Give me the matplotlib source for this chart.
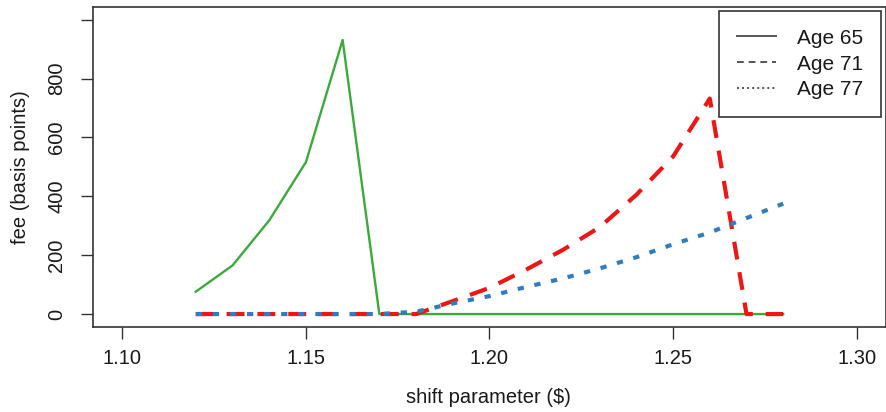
import matplotlib.pyplot as plt
from matplotlib.lines import Line2D

# shift parameter grid and fees (basis points)
shift = [1.12, 1.13, 1.14, 1.15, 1.16, 1.17, 1.18, 1.19, 1.20,
         1.21, 1.22, 1.23, 1.24, 1.25, 1.26, 1.27, 1.28]
fee_65 = [76, 165, 318, 516, 931, 0, 0, 0, 0, 0, 0, 0, 0, 0, 0, 0, 0]
fee_71 = [0, 0, 0, 0, 0, 0, 0, 44, 89, 151, 218, 295, 405, 535, 732, 0, 0]
fee_77 = [0, 0, 0, 0, 0, 0, 8, 36, 61, 92, 121, 155, 193, 237, 277, 326, 375]

x_ticks = [1.10, 1.15, 1.20, 1.25, 1.30]
y_ticks = [0, 200, 400, 600, 800, 1000]
legend_labels = ["Age 65", "Age 71", "Age 77"]

plt.rcParams['font.family'] = ['Liberation Sans', 'DejaVu Sans']
text_col = '#1a1a1a'
fs = 14.5


def main() -> None:
    fig = plt.figure(figsize=(8.87, 4.12), dpi=100)
    ax = fig.add_axes([0.1048, 0.2063, 0.8941, 0.7767])

    ax.plot(shift, fee_65, color='#3aaa3a', lw=1.7, solid_joinstyle='round')
    ax.plot(shift, fee_71, color='#ee1515', lw=3.0,
            linestyle=(0, (4.3, 3.1)))
    ax.plot(shift, fee_77, color='#2f7dc0', lw=3.0,
            linestyle=(0, (1.5, 2.6)))

    ax.set_xlim(1.092, 1.308)
    ax.set_ylim(-44, 1043)
    ax.set_xticks(x_ticks)
    ax.set_xticklabels([f"{v:.2f}" for v in x_ticks])
    ax.set_yticks(y_ticks)
    ax.set_yticklabels([str(v) if v < 1000 else '' for v in y_ticks],
                       rotation=90, va='center')

    ax.tick_params(axis='both', length=8.6, width=1.0, color='#333333',
                   labelsize=fs, labelcolor=text_col)
    ax.tick_params(axis='x', pad=7)
    ax.tick_params(axis='y', pad=10.5)
    for sp in ax.spines.values():
        sp.set_color('#333333')
        sp.set_linewidth(1.2)

    ax.set_xlabel("shift parameter ($)", fontsize=fs, color=text_col)
    ax.set_ylabel("fee (basis points)", fontsize=fs, color=text_col)
    ax.xaxis.set_label_coords(0.499, -0.19)
    ax.yaxis.set_label_coords(-0.08, 0.5)

    handles = [
        Line2D([], [], color='#555555', lw=1.4),
        Line2D([], [], color='#555555', lw=1.4, linestyle=(0, (3.5, 2.5))),
        Line2D([], [], color='#555555', lw=1.4, linestyle=(0, (1, 1.6))),
    ]
    leg = ax.legend(handles, legend_labels, loc='upper right',
                    bbox_to_anchor=(0.9937, 0.9875), borderaxespad=0,
                    fontsize=15, handlelength=1.9, handletextpad=1.0,
                    labelspacing=0.33, borderpad=0.85, fancybox=False,
                    framealpha=1, edgecolor='#333333')
    leg.get_frame().set_linewidth(1.2)
    for t in leg.get_texts():
        t.set_color(text_col)

    fig.savefig("out.png", dpi=100)
    plt.close(fig)


if __name__ == "__main__":
    main()
